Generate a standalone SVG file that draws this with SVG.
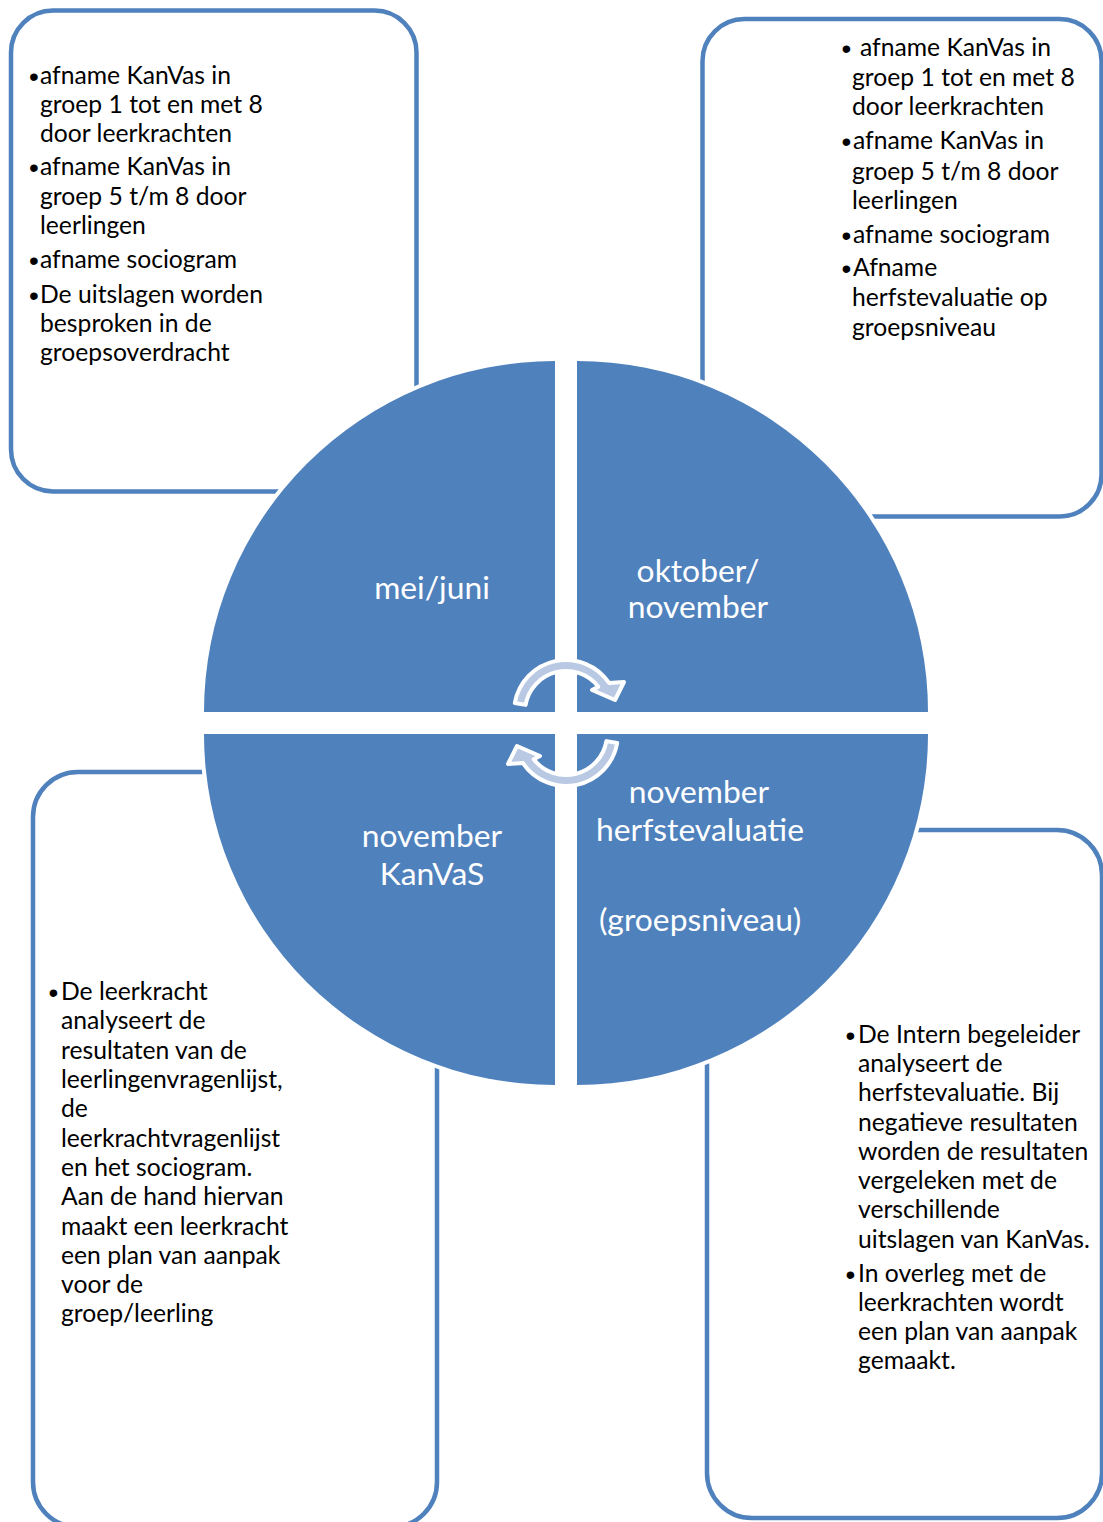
<svg xmlns="http://www.w3.org/2000/svg" width="1103" height="1522" viewBox="0 0 1103 1522">
<style>
.box{fill:#fff;stroke:#4F81BD;stroke-width:4.5}
.q{fill:#4F81BD;stroke:#fff;stroke-width:8;paint-order:stroke}
.qt{font-family:Lato,"Liberation Sans",sans-serif;font-size:31.8px;fill:#fff;text-anchor:middle}
.bt{font-family:Lato,"Liberation Sans",sans-serif;font-size:24.7px;fill:#000}
.bu{font-family:"Liberation Sans",Arial,sans-serif;font-size:28px;fill:#000}
.arr{fill:#B9C9E3;stroke:#fff;stroke-width:4;stroke-linejoin:round}
</style>
<rect width="1103" height="1522" fill="#fff"/>
<g id="box-mei-juni">
<rect class="box" x="11" y="10.5" width="405.5" height="481" rx="42"/>
<text class="bu"><tspan x="29" y="86">•</tspan><tspan x="29" y="177">•</tspan><tspan x="29" y="270">•</tspan><tspan x="29" y="305">•</tspan></text>
<text class="bt"><tspan x="40" y="84">afname KanVas in</tspan><tspan x="40" y="113">groep 1 tot en met 8</tspan><tspan x="40" y="142">door leerkrachten</tspan><tspan x="40" y="175">afname KanVas in</tspan><tspan x="40" y="205">groep 5 t/m 8 door</tspan><tspan x="40" y="234">leerlingen</tspan><tspan x="40" y="268">afname sociogram</tspan><tspan x="40" y="303">De uitslagen worden</tspan><tspan x="40" y="332">besproken in de</tspan><tspan x="40" y="361">groepsoverdracht</tspan></text>
</g>
<g id="box-oktober-november">
<rect class="box" x="702.5" y="19" width="399" height="497.5" rx="42"/>
<text class="bu"><tspan x="841.5" y="58">•</tspan><tspan x="841.5" y="151">•</tspan><tspan x="841.5" y="245">•</tspan><tspan x="841.5" y="278">•</tspan></text>
<text class="bt"><tspan x="860" y="56">afname KanVas in</tspan><tspan x="852" y="86">groep 1 tot en met 8</tspan><tspan x="852" y="115">door leerkrachten</tspan><tspan x="853" y="149">afname KanVas in</tspan><tspan x="852" y="180">groep 5 t/m 8 door</tspan><tspan x="852" y="209">leerlingen</tspan><tspan x="853" y="243">afname sociogram</tspan><tspan x="853" y="276">Afname</tspan><tspan x="852" y="306">herfstevaluatie op</tspan><tspan x="852" y="336">groepsniveau</tspan></text>
</g>
<g id="box-november-kanvas">
<rect class="box" x="33" y="772" width="404" height="755" rx="45"/>
<text class="bu"><tspan x="48.5" y="1002">•</tspan></text>
<text class="bt"><tspan x="61" y="1000">De leerkracht</tspan><tspan x="61" y="1029">analyseert de</tspan><tspan x="61" y="1059">resultaten van de</tspan><tspan x="61" y="1088">leerlingenvragenlijst,</tspan><tspan x="61" y="1117">de</tspan><tspan x="61" y="1147">leerkrachtvragenlijst</tspan><tspan x="61" y="1176">en het sociogram.</tspan><tspan x="61" y="1205">Aan de hand hiervan</tspan><tspan x="61" y="1235">maakt een leerkracht</tspan><tspan x="61" y="1264">een plan van aanpak</tspan><tspan x="61" y="1293">voor de</tspan><tspan x="61" y="1322">groep/leerling</tspan></text>
</g>
<g id="box-november-herfstevaluatie">
<rect class="box" x="707" y="830" width="395" height="688" rx="45"/>
<text class="bu"><tspan x="845.5" y="1045">•</tspan><tspan x="845.5" y="1284">•</tspan></text>
<text class="bt"><tspan x="858" y="1043">De Intern begeleider</tspan><tspan x="858" y="1072">analyseert de</tspan><tspan x="858" y="1101">herfstevaluatie. Bij</tspan><tspan x="858" y="1131">negatieve resultaten</tspan><tspan x="858" y="1160">worden de resultaten</tspan><tspan x="858" y="1189">vergeleken met de</tspan><tspan x="858" y="1218">verschillende</tspan><tspan x="858" y="1248">uitslagen van KanVas.</tspan><tspan x="858" y="1282">In overleg met de</tspan><tspan x="858" y="1311">leerkrachten wordt</tspan><tspan x="858" y="1340">een plan van aanpak</tspan><tspan x="858" y="1369">gemaakt.</tspan></text>
</g>
<g id="q-mei-juni">
<path class="q" d="M555 712 L204 712 A351 351 0 0 1 555 361 Z"/>
<text class="qt" x="432" y="599">mei/juni</text>
</g>
<g id="q-oktober-november">
<path class="q" d="M577 712 L577 361 A351 351 0 0 1 928 712 Z"/>
<text class="qt"><tspan x="698" y="582">oktober/</tspan><tspan x="698" y="618">november</tspan></text>
</g>
<g id="q-november-herfstevaluatie">
<path class="q" d="M577 734 L928 734 A351 351 0 0 1 577 1085 Z"/>
<text class="qt"><tspan x="699" y="803">november</tspan><tspan x="700" y="841">herfstevaluatie</tspan><tspan x="700" y="931">(groepsniveau)</tspan></text>
</g>
<g id="q-november-kanvas">
<path class="q" d="M555 734 L555 1085 A351 351 0 0 1 204 734 Z"/>
<text class="qt"><tspan x="432" y="847">november</tspan><tspan x="432" y="885">KanVaS</tspan></text>
</g>
<g id="connectors">
<path class="arr" d="M514.8 703 A52 52 0 0 1 609.1 682.9 L624 682 L615 700 L592 690 L598.3 686.7 A41 41 0 0 0 525.6 704.9 Z"/>
<path class="arr" transform="rotate(180 566 723)" d="M514.8 703 A52 52 0 0 1 609.1 682.9 L624 682 L615 700 L592 690 L598.3 686.7 A41 41 0 0 0 525.6 704.9 Z"/>
</g>
</svg>
